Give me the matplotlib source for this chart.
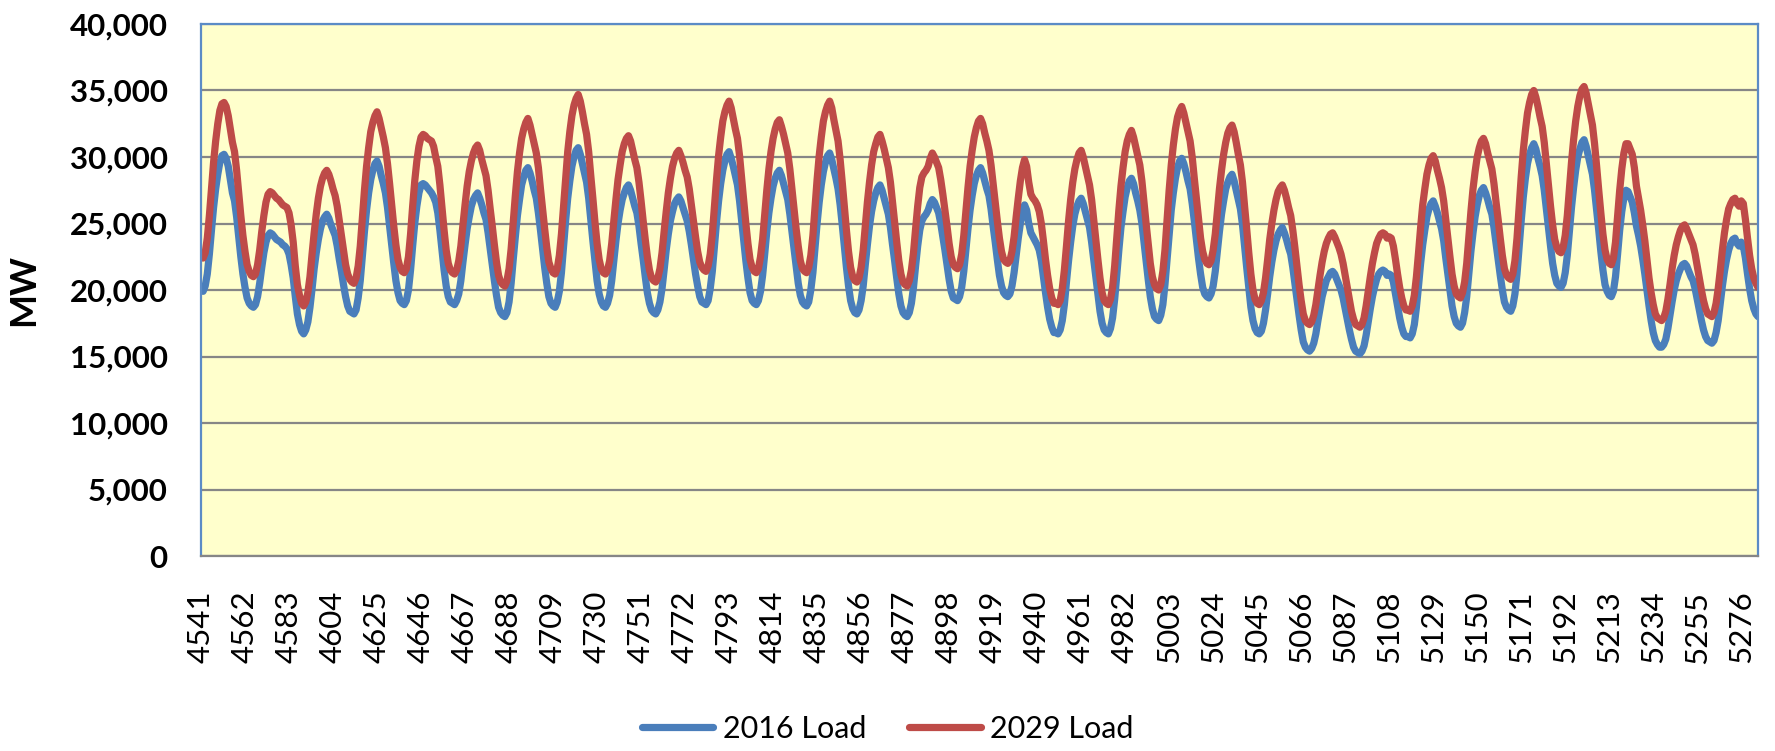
import numpy as np
import matplotlib.pyplot as plt
from matplotlib.ticker import FuncFormatter

# Hourly load (MW), one row per day
load_2016 = [
    20000, 19900, 20300, 21200, 22700, 24500, 26200, 27600, 28700, 29600, 30100, 30200, 29900, 29300, 28300, 27300, 26700, 25500, 24000, 22500, 21200, 20200, 19400, 19000,
    18800, 18700, 18900, 19500, 20500, 21700, 22800, 23600, 24100, 24300, 24200, 24000, 23800, 23700, 23600, 23400, 23300, 23100, 22700, 21900, 20900, 19500, 18200, 17400,
    16900, 16700, 17000, 17600, 18700, 20100, 21600, 22800, 23800, 24600, 25200, 25500, 25700, 25400, 24900, 24500, 24100, 23300, 22300, 21400, 20400, 19500, 18800, 18400,
    18300, 18200, 18500, 19400, 20700, 22600, 24400, 26000, 27300, 28300, 29000, 29500, 29700, 29300, 28600, 28000, 27300, 26200, 24800, 23400, 22000, 20700, 19800, 19200,
    19000, 18900, 19200, 20000, 21500, 23300, 25000, 26300, 27300, 27900, 28000, 27900, 27700, 27500, 27300, 27000, 26600, 25800, 24500, 23000, 21500, 20300, 19500, 19100,
    19000, 18900, 19200, 19700, 20700, 22100, 23400, 24600, 25500, 26300, 26800, 27100, 27300, 26900, 26400, 25800, 25300, 24300, 23100, 21900, 20700, 19600, 18700, 18300,
    18100, 18000, 18300, 19100, 20500, 22300, 24000, 25600, 26800, 27900, 28500, 29000, 29200, 28800, 28200, 27500, 26900, 25800, 24500, 23100, 21700, 20500, 19500, 19000,
    18800, 18700, 19100, 19900, 21300, 23300, 25200, 26900, 28200, 29300, 30000, 30500, 30700, 30200, 29500, 28800, 28100, 26900, 25300, 23700, 22200, 20700, 19700, 19100,
    18800, 18700, 19000, 19600, 20700, 22200, 23700, 25000, 26000, 26800, 27300, 27700, 27900, 27500, 26900, 26300, 25800, 24800, 23500, 22300, 21000, 19800, 19000, 18500,
    18300, 18200, 18500, 19100, 20100, 21500, 23000, 24200, 25200, 25900, 26500, 26800, 27000, 26700, 26200, 25700, 25200, 24400, 23400, 22300, 21200, 20300, 19500, 19100,
    19000, 18900, 19200, 20100, 21400, 23300, 25100, 26700, 28000, 29000, 29700, 30200, 30400, 29900, 29300, 28600, 27900, 26700, 25200, 23700, 22200, 20900, 19800, 19200,
    19000, 18900, 19200, 19900, 21100, 22700, 24400, 25800, 26900, 27800, 28400, 28800, 29000, 28600, 28000, 27400, 26800, 25700, 24400, 23100, 21800, 20500, 19600, 19100,
    18900, 18800, 19100, 20000, 21300, 23200, 25000, 26600, 27900, 28900, 29600, 30100, 30300, 29800, 29100, 28400, 27600, 26400, 24900, 23300, 21700, 20300, 19200, 18600,
    18300, 18200, 18500, 19200, 20300, 21900, 23400, 24800, 25900, 26700, 27300, 27700, 27900, 27500, 26900, 26300, 25700, 24700, 23400, 22200, 20900, 19700, 18800, 18300,
    18100, 18000, 18300, 19000, 20200, 21800, 23300, 24500, 25200, 25500, 25700, 26000, 26500, 26800, 26600, 26200, 25800, 25000, 24000, 23000, 21900, 20800, 19900, 19400,
    19300, 19200, 19500, 20200, 21400, 23000, 24600, 26000, 27100, 28000, 28600, 29000, 29200, 28800, 28200, 27600, 27100, 26100, 24800, 23600, 22300, 21100, 20300, 19800,
    19600, 19500, 19700, 20300, 21300, 22600, 23900, 25000, 25900, 26400, 26000, 25000, 24300, 24000, 23700, 23400, 23000, 22200, 21000, 19800, 18700, 17800, 17200, 16800,
    16800, 16700, 17000, 17700, 18900, 20600, 22200, 23600, 24800, 25700, 26300, 26700, 26900, 26500, 25900, 25300, 24700, 23600, 22300, 21000, 19700, 18400, 17500, 17000,
    16800, 16700, 17100, 17900, 19300, 21100, 23000, 24700, 25900, 27000, 27700, 28200, 28400, 28000, 27300, 26700, 26000, 25000, 23600, 22200, 20800, 19500, 18600, 18000,
    17800, 17700, 18100, 18900, 20400, 22300, 24300, 26000, 27300, 28400, 29200, 29700, 29900, 29500, 28900, 28200, 27600, 26500, 25200, 23800, 22400, 21200, 20200, 19700,
    19500, 19400, 19700, 20300, 21400, 22900, 24400, 25700, 26700, 27600, 28100, 28500, 28700, 28200, 27500, 26800, 26100, 24900, 23300, 21700, 20200, 18700, 17700, 17100,
    16800, 16700, 16900, 17500, 18500, 19700, 21000, 22100, 23000, 23700, 24200, 24500, 24700, 24300, 23800, 23200, 22700, 21700, 20500, 19300, 18100, 17000, 16100, 15700,
    15500, 15400, 15600, 16000, 16700, 17700, 18600, 19500, 20100, 20700, 21000, 21300, 21400, 21200, 20800, 20400, 20000, 19400, 18600, 17800, 17000, 16300, 15700, 15400,
    15300, 15200, 15400, 15800, 16600, 17600, 18600, 19500, 20200, 20800, 21200, 21400, 21500, 21400, 21100, 21200, 21100, 20600, 19700, 18800, 17900, 17200, 16700, 16500,
    16500, 16400, 16700, 17400, 18700, 20300, 22000, 23400, 24500, 25500, 26100, 26500, 26700, 26300, 25800, 25200, 24600, 23700, 22400, 21200, 20000, 18800, 18000, 17500,
    17300, 17200, 17500, 18300, 19500, 21200, 22900, 24300, 25500, 26400, 27100, 27500, 27700, 27300, 26800, 26200, 25700, 24700, 23500, 22300, 21100, 20000, 19100, 18700,
    18500, 18400, 18800, 19700, 21200, 23200, 25200, 27000, 28400, 29500, 30200, 30700, 31000, 30600, 29900, 29300, 28600, 27500, 26100, 24700, 23300, 22000, 21100, 20500,
    20300, 20200, 20500, 21300, 22600, 24400, 26200, 27700, 29000, 30000, 30600, 31100, 31300, 30800, 30100, 29400, 28700, 27500, 26000, 24500, 22900, 21500, 20400, 19900,
    19600, 19500, 19900, 21000, 22700, 24500, 25900, 26900, 27500, 27400, 27000, 26600, 25800, 24800, 24100, 23300, 22300, 21200, 20000, 18800, 17700, 16800, 16200, 15900,
    15700, 15700, 15900, 16300, 17100, 18100, 19100, 20000, 20700, 21200, 21600, 21900, 22000, 21800, 21400, 21000, 20700, 20100, 19300, 18500, 17700, 17000, 16500, 16200,
    16100, 16000, 16200, 16800, 17700, 19000, 20300, 21400, 22300, 23000, 23500, 23800, 23900, 23500, 23300, 23600, 23300, 22400, 21200, 20100, 19200, 18600, 18200, 18000,
]

load_2029 = [
    22500, 22400, 22800, 23900, 25600, 27600, 29600, 31200, 32500, 33500, 34000, 34100, 33800, 33100, 32100, 31100, 30400, 29000, 27300, 25600, 24100, 22900, 21900, 21400,
    21100, 21000, 21200, 21900, 23000, 24400, 25600, 26600, 27200, 27400, 27300, 27100, 26900, 26800, 26600, 26400, 26300, 26200, 25800, 24900, 23600, 21800, 20400, 19600,
    19000, 18800, 19100, 19800, 21000, 22700, 24300, 25700, 26900, 27800, 28400, 28800, 29000, 28700, 28200, 27600, 27100, 26300, 25200, 24100, 23000, 21900, 21200, 20800,
    20600, 20500, 20900, 21800, 23300, 25400, 27500, 29300, 30700, 31900, 32600, 33100, 33400, 32900, 32200, 31500, 30700, 29500, 28000, 26400, 24800, 23400, 22300, 21700,
    21400, 21300, 21600, 22500, 24200, 26300, 28200, 29700, 30800, 31500, 31700, 31600, 31400, 31300, 31200, 30800, 30000, 29300, 27900, 26200, 24500, 23000, 22000, 21500,
    21300, 21200, 21500, 22200, 23300, 24900, 26400, 27800, 28900, 29700, 30300, 30700, 30900, 30500, 29800, 29200, 28600, 27500, 26100, 24800, 23400, 22100, 21100, 20600,
    20400, 20300, 20700, 21600, 23100, 25100, 27100, 28900, 30300, 31400, 32100, 32600, 32900, 32400, 31700, 31000, 30300, 29200, 27600, 26100, 24600, 23200, 22100, 21600,
    21300, 21200, 21600, 22600, 24200, 26300, 28500, 30400, 31900, 33100, 33900, 34400, 34700, 34200, 33400, 32500, 31700, 30400, 28600, 26900, 25100, 23500, 22300, 21600,
    21300, 21200, 21500, 22200, 23500, 25200, 26800, 28300, 29400, 30400, 31000, 31400, 31600, 31200, 30500, 29800, 29200, 28100, 26700, 25200, 23800, 22500, 21500, 20900,
    20700, 20600, 20900, 21600, 22800, 24400, 25900, 27300, 28400, 29300, 29900, 30300, 30500, 30100, 29600, 29000, 28500, 27600, 26400, 25200, 24000, 22900, 22100, 21700,
    21500, 21400, 21800, 22700, 24200, 26300, 28300, 30100, 31500, 32700, 33400, 33900, 34200, 33700, 32900, 32100, 31400, 30100, 28400, 26700, 25000, 23500, 22300, 21700,
    21400, 21300, 21600, 22500, 23800, 25700, 27500, 29100, 30400, 31400, 32100, 32600, 32800, 32300, 31700, 31000, 30300, 29100, 27600, 26100, 24600, 23300, 22200, 21600,
    21400, 21300, 21700, 22600, 24100, 26200, 28300, 30100, 31500, 32700, 33400, 33900, 34200, 33700, 32800, 32000, 31200, 29800, 28100, 26300, 24500, 22900, 21700, 21000,
    20700, 20600, 20900, 21700, 23000, 24800, 26600, 28100, 29400, 30400, 31000, 31500, 31700, 31200, 30600, 29900, 29200, 28100, 26600, 25100, 23600, 22200, 21200, 20600,
    20400, 20300, 20700, 21500, 22800, 24600, 26300, 27700, 28500, 28800, 29000, 29300, 29900, 30300, 30000, 29600, 29200, 28300, 27200, 26000, 24800, 23500, 22500, 21900,
    21700, 21600, 21900, 22700, 24100, 25900, 27700, 29300, 30500, 31500, 32200, 32700, 32900, 32500, 31800, 31200, 30500, 29400, 28000, 26600, 25200, 23900, 22900, 22300,
    22100, 22000, 22200, 22900, 24000, 25500, 26900, 28200, 29200, 29800, 29300, 28100, 27200, 26900, 26700, 26400, 25900, 25000, 23700, 22300, 21100, 20100, 19400, 19000,
    19000, 18900, 19200, 20100, 21500, 23300, 25200, 26800, 28100, 29100, 29800, 30300, 30500, 30000, 29300, 28600, 27900, 26800, 25300, 23800, 22300, 20900, 19800, 19200,
    19000, 18900, 19300, 20200, 21800, 23900, 26000, 27800, 29200, 30400, 31200, 31700, 32000, 31500, 30800, 30100, 29400, 28200, 26600, 25000, 23500, 22000, 21000, 20400,
    20100, 20000, 20400, 21400, 23000, 25200, 27500, 29400, 30900, 32100, 33000, 33500, 33800, 33300, 32600, 31900, 31200, 30000, 28400, 26900, 25400, 23900, 22900, 22300,
    22000, 21900, 22200, 23000, 24200, 25900, 27600, 29000, 30200, 31100, 31800, 32200, 32400, 31900, 31100, 30200, 29400, 28100, 26300, 24600, 22800, 21200, 20000, 19300,
    19000, 18900, 19200, 19800, 20900, 22300, 23800, 25000, 26000, 26800, 27400, 27700, 27900, 27500, 26900, 26200, 25600, 24500, 23200, 21800, 20400, 19200, 18200, 17700,
    17500, 17400, 17600, 18100, 18900, 20000, 21100, 22100, 22900, 23500, 23900, 24200, 24300, 24000, 23600, 23200, 22700, 22000, 21100, 20200, 19300, 18400, 17800, 17400,
    17300, 17200, 17400, 17900, 18800, 19900, 21000, 22000, 22800, 23500, 23900, 24200, 24300, 24200, 23900, 24000, 23900, 23300, 22300, 21200, 20200, 19400, 18800, 18500,
    18500, 18400, 18800, 19600, 21000, 22800, 24700, 26400, 27600, 28700, 29400, 29900, 30100, 29700, 29000, 28400, 27700, 26700, 25300, 23900, 22500, 21200, 20300, 19700,
    19500, 19400, 19800, 20600, 22000, 24000, 25900, 27600, 28900, 30000, 30700, 31200, 31400, 31000, 30300, 29700, 29100, 28000, 26600, 25300, 23900, 22600, 21600, 21100,
    20900, 20800, 21200, 22200, 23900, 26200, 28500, 30500, 32000, 33300, 34100, 34700, 35000, 34500, 33800, 33000, 32300, 31100, 29500, 27900, 26300, 24900, 23800, 23200,
    22900, 22800, 23200, 24100, 25600, 27600, 29600, 31300, 32700, 33800, 34600, 35100, 35300, 34800, 34000, 33200, 32400, 31000, 29300, 27500, 25800, 24200, 23000, 22300,
    22000, 21900, 22400, 23600, 25500, 27500, 29100, 30300, 31000, 31000, 30600, 30200, 29200, 27800, 26900, 26000, 24900, 23700, 22300, 20900, 19800, 18900, 18200, 17900,
    17800, 17700, 17900, 18400, 19300, 20400, 21600, 22600, 23400, 24000, 24500, 24800, 24900, 24600, 24200, 23800, 23400, 22700, 21800, 20900, 20000, 19200, 18600, 18200,
    18100, 18000, 18300, 19000, 20100, 21500, 23000, 24300, 25300, 26100, 26500, 26800, 26900, 26500, 26300, 26700, 26500, 25300, 23900, 22600, 21600, 20900, 20500, 20200,
]

first_hour = 4541
tick_step = 21
series_labels = ["2016 Load", "2029 Load"]

assert len(load_2016) == len(load_2029)
hours = np.arange(first_hour, first_hour + len(load_2016))
tick_hours = np.arange(first_hour, hours[-1] + 1, tick_step)

fig = plt.figure(figsize=(17.75, 7.51), dpi=100)
ax = fig.add_axes([201 / 1775, 1 - 556 / 751, 1557 / 1775, 532 / 751])
ax.set_facecolor("#FFFFCC")

ax.plot(hours, load_2016, color="#4A7EBB", lw=5.2, label=series_labels[0],
        solid_joinstyle="round", solid_capstyle="round")
ax.plot(hours, load_2029, color="#BE4B48", lw=5.2, label=series_labels[1],
        solid_joinstyle="round", solid_capstyle="round")

ax.set_xlim(hours[0], hours[-1])
ax.set_ylim(0, 40000)
ax.set_yticks(np.arange(0, 40001, 5000))
ax.yaxis.set_major_formatter(FuncFormatter(lambda v, p: f"{int(v):,}"))
ax.set_xticks(tick_hours)
ax.set_xticklabels([str(h) for h in tick_hours], rotation=90)

ax.grid(axis="y", color="#868686", lw=1.6)
ax.set_axisbelow(True)
for side in ["left", "top", "right"]:
    ax.spines[side].set_color("#5B8BC6")
    ax.spines[side].set_linewidth(1.6)
ax.spines["bottom"].set_color("#868686")
ax.spines["bottom"].set_linewidth(1.6)

ax.tick_params(axis="y", length=0, pad=24, labelsize=22.5)
ax.tick_params(axis="x", length=0, pad=25, labelsize=22.5)
for lab in ax.get_yticklabels():
    lab.set_fontfamily("Lato")
    lab.set_fontweight("bold")
for lab in ax.get_xticklabels():
    lab.set_fontfamily("Lato")

fig.text(24 / 1775, 1 - 290 / 751, "MW", rotation=90, ha="center", va="center",
         fontsize=26, fontweight="bold", family="Lato")

fig.legend(loc="center", bbox_to_anchor=(0.5, 1 - 729 / 751), ncol=2, frameon=False,
           prop={"family": "Lato", "size": 22}, handlelength=2.35, handletextpad=0.3,
           columnspacing=1.4)

fig.savefig("out.png", dpi=100)
